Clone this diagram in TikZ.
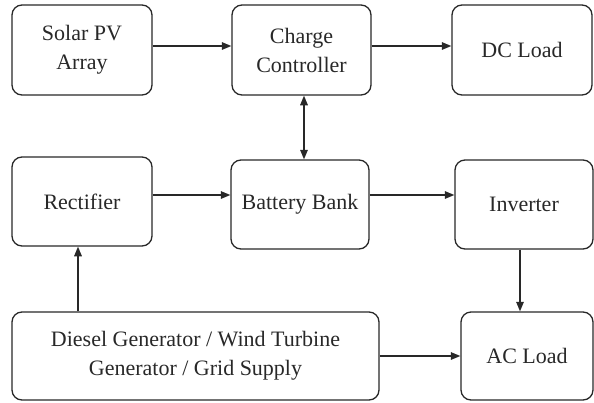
\documentclass[tikz,border=0pt]{standalone}
\usepackage{fontspec}
\setmainfont{Liberation Serif}
\usetikzlibrary{arrows.meta,positioning}
\definecolor{LineGray}{RGB}{40,40,40}

\begin{document}
\begin{tikzpicture}[x=0.5pt,y=-0.5pt,
    block/.style={draw=LineGray,line width=0.65pt,rounded corners=5pt,align=center,
      inner sep=0pt,text=LineGray,font=\fontsize{11}{14.5}\selectfont},
    arr/.style={draw=LineGray,line width=0.65pt,-{Triangle[length=4.8pt,width=3.8pt]}},
    darr/.style={arr,{Triangle[length=4.8pt,width=3.8pt]}-{Triangle[length=4.8pt,width=3.8pt]}}]
  \useasboundingbox (0,0) rectangle (594,402);
  % Top row
  \node[block,minimum width=70pt,minimum height=45pt] (solar) at (82,50){Solar PV\\Array};
  \node[block,minimum width=69.5pt,minimum height=45pt] (charge) at (301.5,50){Charge\\Controller};
  \node[block,minimum width=70pt,minimum height=45pt] (dcload) at (522,50){DC Load};
  % Middle row
  \node[block,minimum width=70pt,minimum height=44.5pt] (rect) at (82,201.5){Rectifier};
  \node[block,minimum width=69pt,minimum height=44.5pt] (battery) at (300,204.5){Battery Bank};
  \node[block,minimum width=69pt,minimum height=44.5pt] (inverter) at (524,204.5){Inverter};
  % Bottom row
  \node[block,minimum width=183.5pt,minimum height=44pt] (diesel) at (195.5,356)
       {Diesel Generator / Wind Turbine\\Generator / Grid Supply};
  \node[block,minimum width=66pt,minimum height=44pt] (acload) at (527,356){AC Load};
  % Connectors
  \draw[arr] ([yshift=2pt]solar.east) -- ([yshift=2pt]solar.east -| charge.west);
  \draw[arr] ([yshift=2pt]charge.east) -- ([yshift=2pt]charge.east -| dcload.west);
  \draw[darr] ([xshift=1.25pt]charge.south) -- ([xshift=1.25pt]charge.south |- battery.north);
  \draw[arr] ([yshift=3.25pt]rect.east) -- ([yshift=3.25pt]rect.east -| battery.west);
  \draw[arr] ([yshift=4.75pt]battery.east) -- ([yshift=4.75pt]battery.east -| inverter.west);
  \draw[arr] ([xshift=-2pt]inverter.south) -- ([xshift=-2pt]inverter.south |- acload.north);
  \draw[arr] ([xshift=-2pt]rect.south |- diesel.north) -- ([xshift=-2pt]rect.south);
  \draw[arr] (diesel) -- (acload);
\end{tikzpicture}
\end{document}
